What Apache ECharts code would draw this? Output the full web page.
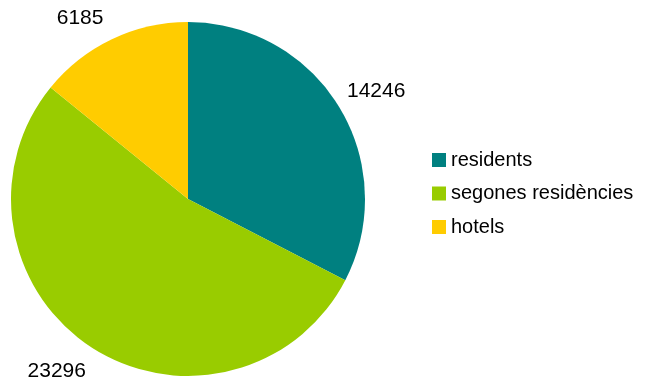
<!DOCTYPE html>
<html>
<head>
<meta charset="utf-8">
<script src="https://cdn.jsdelivr.net/npm/echarts@6/dist/echarts.min.js"></script>
<style>
  html, body { margin: 0; padding: 0; background: #ffffff; }
  #chart { width: 647px; height: 381px; }
</style>
</head>
<body>
<div id="chart"></div>
<script>
// Visitor groups and their counts
const categories = ['residents', 'segones residències', 'hotels'];
const values = [14246, 23296, 6185];
const colors = ['#008080', '#99CC00', '#FFCC00'];
// Nudges for each outside value label
const labelNudge = [[-10, -8], [8, 12], [3, -7]];

const FONT = 'Liberation Sans, Arial, sans-serif';
const chart = echarts.init(document.getElementById('chart'), null, { renderer: 'canvas' });

chart.setOption({
  animation: false,
  color: colors,
  textStyle: { fontFamily: FONT },
  legend: {
    orient: 'vertical',
    left: 427,
    top: 145,
    itemWidth: 14,
    itemHeight: 14,
    itemGap: 13.5,
    icon: 'rect',
    selectedMode: false,
    textStyle: { fontSize: 20, color: '#000', fontFamily: FONT },
    data: categories
  },
  series: [{
    type: 'pie',
    center: [188, 199],
    radius: [0, 177],
    startAngle: 90,
    clockwise: true,
    avoidLabelOverlap: false,
    label: {
      show: true,
      position: 'outside',
      formatter: '{c}',
      fontSize: 21,
      color: '#000',
      fontFamily: FONT
    },
    labelLine: { show: false, length: 15, length2: 0 },
    labelLayout: function (p) {
      const n = labelNudge[p.dataIndex];
      return { dx: n[0], dy: n[1] };
    },
    emphasis: { disabled: true },
    data: categories.map((name, i) => ({ name, value: values[i] }))
  }]
});
</script>
</body>
</html>
